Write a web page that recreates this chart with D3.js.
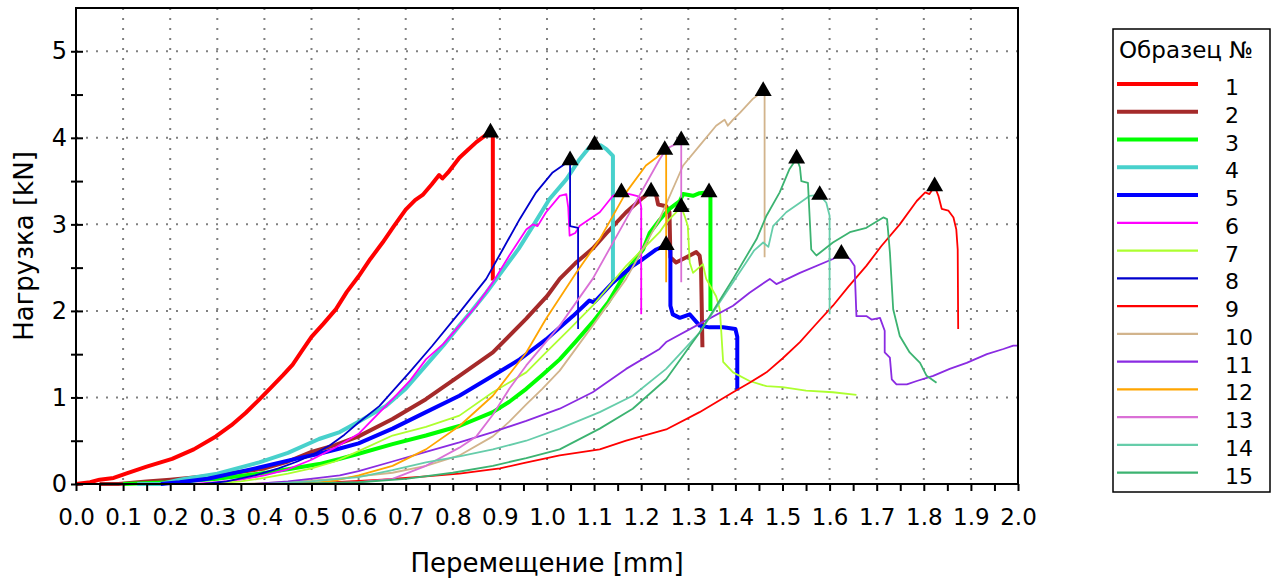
<!DOCTYPE html>
<html>
<head>
<meta charset="utf-8">
<script src="https://cdn.jsdelivr.net/npm/d3@7"></script>
<style>
    body { margin: 0; background: #fff; }
    svg text { font-family: "DejaVu Sans", Verdana, sans-serif; fill: #000; }
</style>
</head>
<body>
<div class="chart"></div>
<script>
"use strict";
// Образец 1..15: [перемещение mm, нагрузка kN]
const s1 = [[0,0],[0.03,0.02],[0.05,0.05],[0.08,0.07],[0.106,0.12],[0.15,0.2],[0.204,0.29],[0.25,0.4],[0.297,0.55],[0.33,0.68],[0.36,0.82],[0.39,0.98],[0.417,1.13],[0.44,1.26],[0.46,1.38],[0.48,1.54],[0.5,1.7],[0.525,1.85],[0.552,2.02],[0.575,2.22],[0.6,2.4],[0.625,2.6],[0.651,2.79],[0.675,2.98],[0.7,3.17],[0.72,3.28],[0.736,3.34],[0.755,3.46],[0.771,3.57],[0.778,3.53],[0.79,3.6],[0.814,3.77],[0.83,3.85],[0.85,3.95],[0.87,4.03],[0.88,4.06],[0.885,4.02],[0.885,2.35]];
const s2 = [[0.05,0],[0.09,0],[0.15,0.03],[0.2,0.05],[0.3,0.1],[0.4,0.18],[0.45,0.26],[0.5,0.37],[0.55,0.45],[0.6,0.55],[0.672,0.75],[0.743,0.98],[0.814,1.25],[0.885,1.52],[0.956,1.91],[1.0,2.17],[1.027,2.37],[1.06,2.55],[1.097,2.72],[1.13,2.92],[1.168,3.14],[1.204,3.31],[1.221,3.38],[1.232,3.33],[1.236,3.23],[1.253,3.21],[1.26,3.14],[1.262,2.62],[1.274,2.56],[1.296,2.62],[1.317,2.68],[1.324,2.64],[1.327,2.52],[1.33,1.58]];
const s3 = [[0.1,0],[0.2,0.02],[0.3,0.06],[0.389,0.12],[0.45,0.17],[0.516,0.23],[0.56,0.29],[0.6,0.35],[0.672,0.46],[0.743,0.56],[0.814,0.67],[0.885,0.83],[0.92,0.95],[0.956,1.1],[0.99,1.26],[1.027,1.44],[1.06,1.64],[1.097,1.87],[1.13,2.1],[1.168,2.45],[1.204,2.71],[1.218,2.9],[1.239,3.05],[1.26,3.18],[1.282,3.27],[1.289,3.35],[1.31,3.33],[1.324,3.36],[1.344,3.37],[1.347,3.35],[1.347,2.0]];
const s4 = [[0.13,0],[0.18,0],[0.22,0.05],[0.3,0.12],[0.389,0.25],[0.45,0.36],[0.516,0.52],[0.56,0.6],[0.6,0.72],[0.658,0.9],[0.7,1.1],[0.743,1.37],[0.78,1.6],[0.814,1.83],[0.84,2.0],[0.871,2.21],[0.913,2.52],[0.94,2.72],[0.97,2.98],[1.005,3.29],[1.041,3.52],[1.069,3.75],[1.09,3.89],[1.101,3.92],[1.115,3.91],[1.126,3.87],[1.14,3.79],[1.14,2.31]];
const s5 = [[0.18,0],[0.22,0.02],[0.28,0.06],[0.33,0.12],[0.389,0.19],[0.45,0.27],[0.516,0.35],[0.56,0.41],[0.6,0.47],[0.672,0.64],[0.743,0.83],[0.814,1.02],[0.885,1.25],[0.942,1.44],[0.998,1.67],[1.055,1.94],[1.09,2.12],[1.1,2.1],[1.14,2.33],[1.182,2.52],[1.204,2.6],[1.232,2.71],[1.253,2.76],[1.262,2.7],[1.262,2.06],[1.267,1.96],[1.282,1.92],[1.303,1.96],[1.324,1.83],[1.345,1.81],[1.374,1.81],[1.4,1.79],[1.404,1.7],[1.404,1.08]];
const s6 = [[0.25,0],[0.3,0.02],[0.35,0.05],[0.4,0.1],[0.45,0.17],[0.5,0.28],[0.55,0.42],[0.6,0.58],[0.672,0.98],[0.71,1.2],[0.743,1.44],[0.78,1.62],[0.814,1.83],[0.85,2.06],[0.885,2.33],[0.92,2.64],[0.956,2.94],[0.97,3.0],[0.98,2.98],[0.998,3.14],[1.027,3.33],[1.041,3.35],[1.045,3.2],[1.048,2.87],[1.06,2.9],[1.069,2.98],[1.112,3.14],[1.14,3.33],[1.158,3.37],[1.182,3.34],[1.196,3.32],[1.2,3.2],[1.2,1.96]];
const s7 = [[0.28,0],[0.35,0.03],[0.4,0.07],[0.45,0.12],[0.5,0.18],[0.55,0.26],[0.6,0.38],[0.672,0.56],[0.743,0.66],[0.814,0.79],[0.885,1.06],[0.956,1.29],[0.998,1.52],[1.05,1.8],[1.097,2.06],[1.168,2.52],[1.239,2.91],[1.253,3.02],[1.285,3.2],[1.292,3.1],[1.299,2.98],[1.303,2.56],[1.31,2.44],[1.331,2.54],[1.338,2.37],[1.359,2.17],[1.367,2.02],[1.374,1.41],[1.395,1.29],[1.43,1.19],[1.466,1.13],[1.5,1.12],[1.55,1.08],[1.607,1.06],[1.657,1.03]];
const s8 = [[0.27,0],[0.32,0.03],[0.38,0.1],[0.43,0.18],[0.47,0.26],[0.51,0.36],[0.54,0.45],[0.57,0.57],[0.6,0.71],[0.644,0.9],[0.708,1.29],[0.757,1.6],[0.814,1.98],[0.871,2.37],[0.906,2.71],[0.942,3.06],[0.977,3.37],[1.012,3.6],[1.041,3.71],[1.049,3.74],[1.049,2.98],[1.066,2.96],[1.066,1.79]];
const s9 = [[0.45,0],[0.55,0.02],[0.65,0.05],[0.75,0.09],[0.814,0.12],[0.9,0.18],[0.95,0.24],[1.027,0.33],[1.112,0.4],[1.168,0.5],[1.253,0.63],[1.324,0.83],[1.395,1.06],[1.43,1.17],[1.466,1.29],[1.5,1.45],[1.537,1.64],[1.57,1.84],[1.607,2.06],[1.64,2.28],[1.678,2.52],[1.71,2.75],[1.749,3.0],[1.785,3.27],[1.803,3.37],[1.812,3.35],[1.823,3.44],[1.831,3.33],[1.838,3.18],[1.852,3.16],[1.863,3.08],[1.869,2.94],[1.872,2.71],[1.873,1.79]];
const s10 = [[0.35,0],[0.45,0.02],[0.55,0.06],[0.62,0.1],[0.672,0.13],[0.743,0.21],[0.814,0.33],[0.885,0.55],[0.92,0.72],[0.956,0.92],[0.99,1.1],[1.027,1.31],[1.097,1.83],[1.168,2.37],[1.239,3.06],[1.289,3.68],[1.324,3.91],[1.359,4.14],[1.377,4.21],[1.384,4.14],[1.395,4.21],[1.41,4.29],[1.437,4.45],[1.459,4.54],[1.462,4.5],[1.462,2.62]];
const s11 = [[0.38,0],[0.45,0.03],[0.516,0.07],[0.56,0.1],[0.6,0.15],[0.672,0.26],[0.743,0.37],[0.814,0.48],[0.885,0.6],[0.956,0.73],[1.027,0.87],[1.097,1.06],[1.168,1.33],[1.239,1.56],[1.253,1.64],[1.324,1.85],[1.395,2.06],[1.43,2.21],[1.473,2.37],[1.487,2.31],[1.537,2.44],[1.607,2.6],[1.625,2.66],[1.643,2.6],[1.653,2.52],[1.657,1.94],[1.678,1.94],[1.689,1.9],[1.707,1.92],[1.717,1.77],[1.717,1.52],[1.728,1.46],[1.732,1.21],[1.742,1.15],[1.764,1.15],[1.785,1.19],[1.82,1.25],[1.855,1.33],[1.891,1.4],[1.934,1.5],[1.969,1.56],[1.99,1.6],[2.0,1.6]];
const s12 = [[0.45,0],[0.5,0.01],[0.55,0.04],[0.6,0.1],[0.672,0.21],[0.743,0.4],[0.814,0.67],[0.885,1.02],[0.956,1.52],[0.998,1.91],[1.062,2.44],[1.112,2.83],[1.168,3.37],[1.21,3.68],[1.232,3.77],[1.25,3.86],[1.253,3.8],[1.253,2.33]];
const s13 = [[0.5,0],[0.6,0.02],[0.672,0.06],[0.743,0.21],[0.814,0.42],[0.85,0.55],[0.885,0.8],[0.92,1.1],[0.956,1.37],[1.027,1.83],[1.097,2.37],[1.168,3.06],[1.239,3.75],[1.253,3.87],[1.274,3.93],[1.285,3.97],[1.285,2.33]];
const s14 = [[0.4,0],[0.5,0.03],[0.6,0.08],[0.672,0.16],[0.743,0.25],[0.814,0.32],[0.885,0.4],[0.956,0.5],[1.027,0.64],[1.112,0.83],[1.182,1.02],[1.253,1.33],[1.324,1.75],[1.395,2.33],[1.44,2.7],[1.459,2.79],[1.47,2.74],[1.48,2.98],[1.508,3.14],[1.537,3.25],[1.558,3.33],[1.579,3.34],[1.593,3.25],[1.6,3.1],[1.6,1.96]];
const s15 = [[0.45,0],[0.6,0.02],[0.7,0.06],[0.8,0.13],[0.885,0.21],[0.956,0.3],[1.027,0.4],[1.112,0.64],[1.182,0.87],[1.253,1.21],[1.324,1.75],[1.395,2.37],[1.445,2.83],[1.466,3.1],[1.494,3.37],[1.515,3.64],[1.53,3.76],[1.537,3.66],[1.54,3.5],[1.554,3.48],[1.561,2.71],[1.572,2.64],[1.607,2.79],[1.643,2.91],[1.678,2.96],[1.714,3.08],[1.722,3.06],[1.728,2.68],[1.735,2.02],[1.749,1.71],[1.77,1.52],[1.792,1.4],[1.806,1.25],[1.827,1.17]];

const series = [s1, s2, s3, s4, s5, s6, s7, s8, s9, s10, s11, s12, s13, s14, s15];
const names = ["1","2","3","4","5","6","7","8","9","10","11","12","13","14","15"];
const colors = ["#ff0000","#a52a2a","#00ff00","#48d1cc","#0000ff","#ff00ff","#adff2f","#0000cd",
                "#ff0000","#d2b48c","#8a2be2","#ffa500","#da70d6","#66cdaa","#3cb371"];
const thick = [true, true, true, true, true, false, false, false, false, false, false, false, false, false, false];

const xTickValues = [0,0.1,0.2,0.3,0.4,0.5,0.6,0.7,0.8,0.9,1.0,1.1,1.2,1.3,1.4,1.5,1.6,1.7,1.8,1.9,2.0];
const yTickValues = [0,1,2,3,4,5];

let width = 1271, height = 579;
let plot = {left: 76, right: 1018, top: 8, bottom: 484};

let x = d3.scaleLinear().domain([0, 2]).range([plot.left, plot.right]);
let y = d3.scaleLinear().domain([0, 5.5]).range([plot.bottom, plot.top]);

let svg = d3.select(".chart").append("svg")
    .attr("width", width)
    .attr("height", height);

// a few px below the axis so the zero segments are not cut in half
svg.append("clipPath").attr("id", "clip")
    .append("rect")
    .attr("x", plot.left).attr("y", plot.top)
    .attr("width", plot.right - plot.left).attr("height", plot.bottom - plot.top + 3);

// dotted grid
let grid = svg.append("g").attr("class", "grid");
grid.selectAll("line.v")
    .data(xTickValues.filter(d => d > 0 && d < 2))
    .enter().append("line")
    .attr("x1", d => x(d)).attr("x2", d => x(d))
    .attr("y1", plot.top).attr("y2", plot.bottom);
grid.selectAll("line.h")
    .data(yTickValues.filter(d => d > 0))
    .enter().append("line")
    .attr("x1", plot.left).attr("x2", plot.right)
    .attr("y1", d => y(d)).attr("y2", d => y(d));
grid.selectAll("line")
    .style("stroke", "#808080")
    .style("stroke-width", 2)
    .style("stroke-dasharray", "2 8");

// curves
let valueline = d3.line()
    .x(d => x(d[0]))
    .y(d => y(d[1]));

svg.append("g").attr("clip-path", "url(#clip)")
    .selectAll("path")
    .data(series)
    .enter().append("path")
    .attr("d", d => valueline(d))
    .style("fill", "none")
    .style("stroke", (d, i) => colors[i])
    .style("stroke-width", (d, i) => thick[i] ? 4 : 1.8)
    .style("stroke-linejoin", "round");

// max markers
let tri = d3.symbol().type(d3.symbolTriangle).size(125);
svg.append("g")
    .selectAll("path")
    .data(series.map(s => d3.greatest(s, d => d[1])))
    .enter().append("path")
    .attr("d", tri)
    .attr("transform", d => "translate(" + x(d[0]) + "," + y(d[1]) + ")")
    .style("fill", "#000");

// frame
svg.append("rect")
    .attr("x", plot.left).attr("y", plot.top)
    .attr("width", plot.right - plot.left).attr("height", plot.bottom - plot.top)
    .style("fill", "none")
    .style("stroke", "#000")
    .style("stroke-width", 2);

// axes
let xAxis = d3.axisBottom(x)
    .tickValues(d3.range(0, 2.001, 0.05))
    .tickSize(7)
    .tickPadding(18)
    .tickFormat(d => xTickValues.some(v => Math.abs(v - d) < 1e-6) ? d.toFixed(1) : "");

svg.append("g")
    .attr("class", "x axis")
    .attr("transform", "translate(0," + plot.bottom + ")")
    .call(xAxis)
    .call(g => g.select(".domain").remove())
    .call(g => g.selectAll("line").style("stroke", "#000").style("stroke-width", 2))
    .call(g => g.selectAll("text").style("font-size", "23px"));

let yAxis = d3.axisLeft(y)
    .tickValues(d3.range(0, 5.001, 0.5))
    .tickSize(5)
    .tickPadding(4)
    .tickFormat(d => yTickValues.includes(d) ? d : "");

svg.append("g")
    .attr("class", "y axis")
    .attr("transform", "translate(" + plot.left + ",0)")
    .call(yAxis)
    .call(g => g.select(".domain").remove())
    .call(g => g.selectAll("line").attr("x2", 7).attr("x1", -5).style("stroke", "#000").style("stroke-width", 2))
    .call(g => g.selectAll("text").style("font-size", "24px"));

// titles
svg.append("text")
    .attr("x", (plot.left + plot.right) / 2)
    .attr("y", 572)
    .style("text-anchor", "middle")
    .style("font-size", "26px")
    .text("Перемещение [mm]");

svg.append("text")
    .attr("transform", "translate(33," + ((plot.top + plot.bottom) / 2) + ") rotate(-90)")
    .style("text-anchor", "middle")
    .style("font-size", "26px")
    .text("Нагрузка [kN]");

// legend
let legend = svg.append("g").attr("class", "legend");
legend.append("rect")
    .attr("x", 1113).attr("y", 29)
    .attr("width", 157).attr("height", 463)
    .style("fill", "#fff")
    .style("stroke", "#000")
    .style("stroke-width", 1.5);
legend.append("text")
    .attr("x", 1119).attr("y", 58)
    .style("font-size", "23px")
    .text("Образец №");

let row = legend.selectAll("g.row")
    .data(names)
    .enter().append("g")
    .attr("transform", (d, i) => "translate(0," + (84 + i * 27.76) + ")");
row.append("line")
    .attr("x1", 1117).attr("x2", 1198)
    .style("stroke", (d, i) => colors[i])
    .style("stroke-width", (d, i) => thick[i] ? 4 : 2.2);
row.append("text")
    .attr("x", 1225).attr("y", 11)
    .style("font-size", "22px")
    .text(d => d);
</script>
</body>
</html>
